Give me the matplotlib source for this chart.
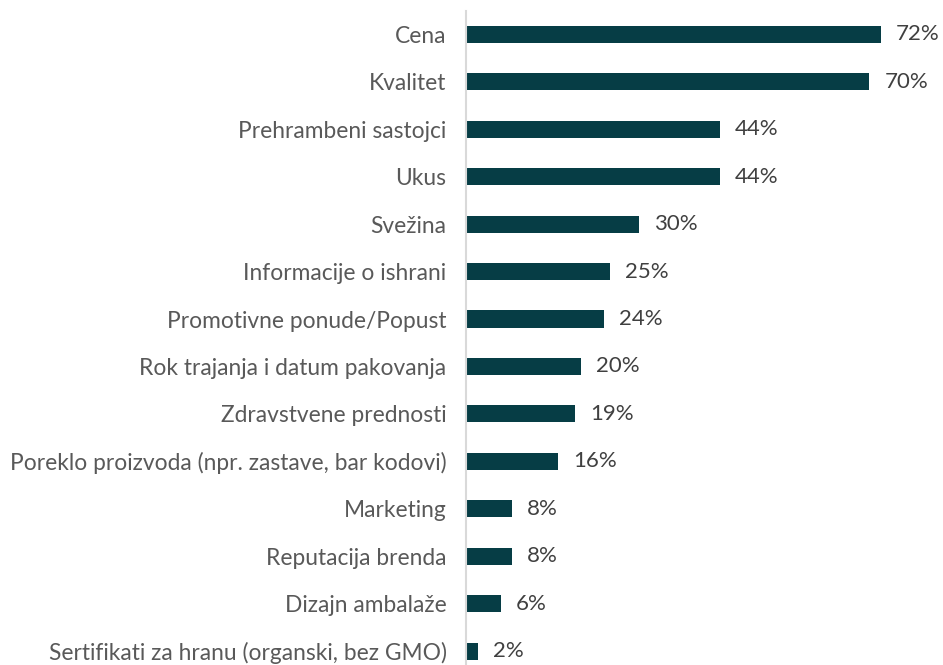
import matplotlib.pyplot as plt

categories = [
    "Cena",
    "Kvalitet",
    "Prehrambeni sastojci",
    "Ukus",
    "Svežina",
    "Informacije o ishrani",
    "Promotivne ponude/Popust",
    "Rok trajanja i datum pakovanja",
    "Zdravstvene prednosti",
    "Poreklo proizvoda (npr. zastave, bar kodovi)",
    "Marketing",
    "Reputacija brenda",
    "Dizajn ambalaže",
    "Sertifikati za hranu (organski, bez GMO)",
]
values = [72, 70, 44, 44, 30, 25, 24, 20, 19, 16, 8, 8, 6, 2]

BAR = "#063d45"
TEXT = "#595959"

plt.rcParams["font.family"] = ["Lato", "DejaVu Sans"]

fig = plt.figure(figsize=(9.43, 6.65), dpi=100)
ax = fig.add_axes([466 / 943, -10 / 665, 461 / 943, 664.5 / 665])

y = list(range(len(categories)))
ax.barh(y, values, height=0.36, color=BAR)
for yi, v in zip(y, values):
    ax.text(v + 2.6, yi, f"{v}%", va="center", ha="left", fontsize=16, color="#404040")

ax.set_yticks(y)
ax.set_yticklabels(categories, fontsize=16.4, color=TEXT)
ax.tick_params(axis="y", length=0, pad=14)
ax.set_xticks([])
ax.set_xlim(0, 80)
ax.set_ylim(len(categories) - 0.5, -0.5)

for side in ["top", "right", "bottom"]:
    ax.spines[side].set_visible(False)
ax.spines["left"].set_color("#d9d9d9")
ax.spines["left"].set_linewidth(1.5)

fig.savefig("out.png", dpi=100)
